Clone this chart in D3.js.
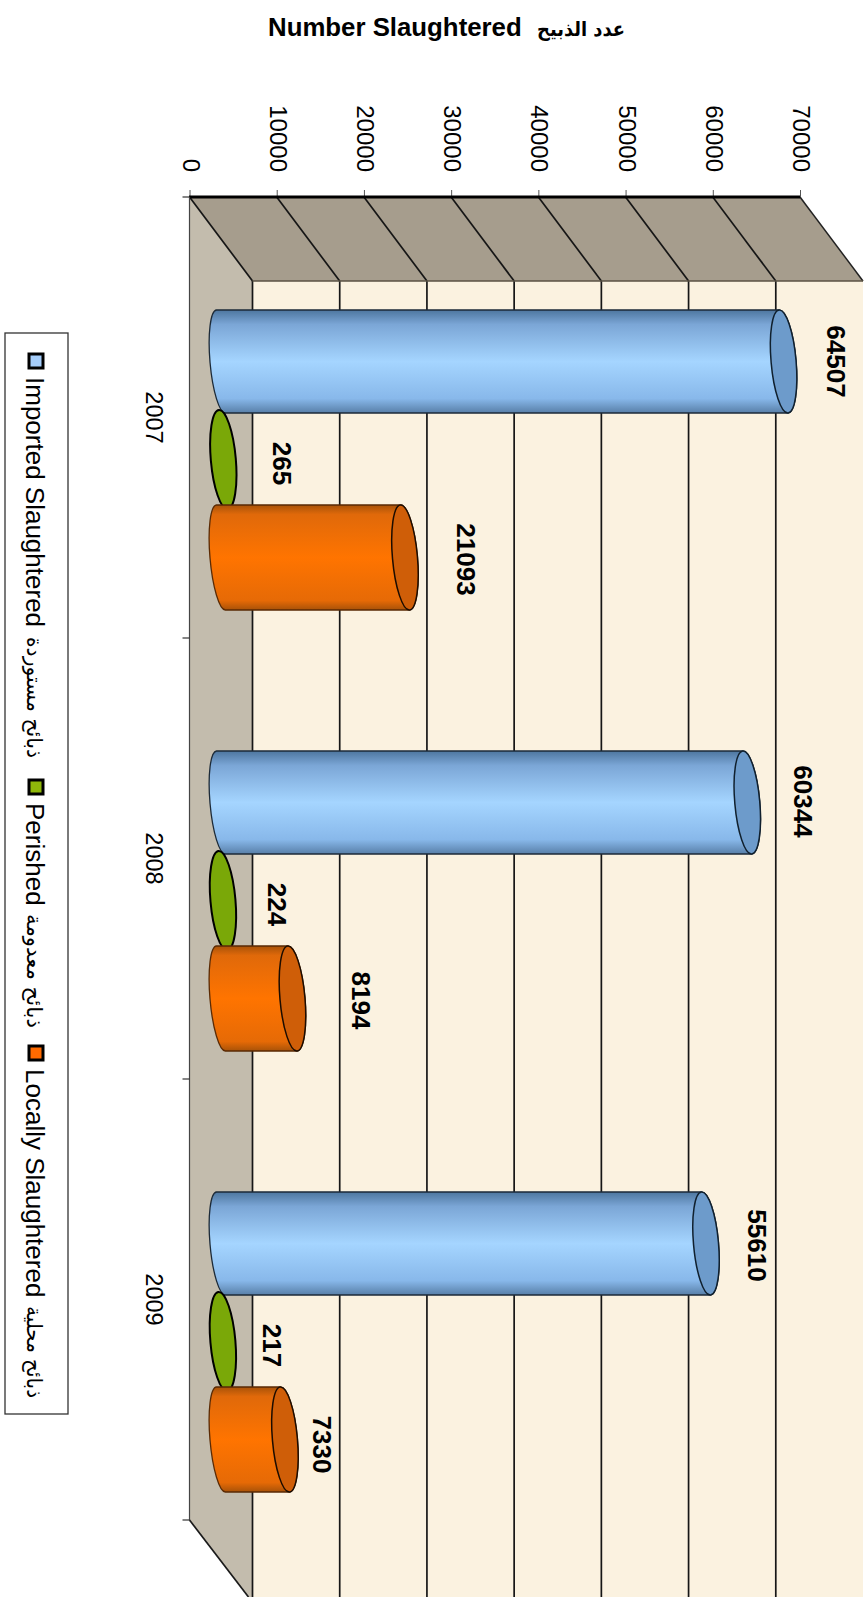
<!DOCTYPE html>
<html><head><meta charset="utf-8">
<script src="https://cdn.jsdelivr.net/npm/d3@7"></script>
<style>html,body{margin:0;background:#fff}svg{display:block}text{font-family:"Liberation Sans",Arial,sans-serif;fill:#000}</style>
</head><body><div id="c"></div>
<script>
const categories = ["2007","2008","2009"];
const seriesNames = ["Imported Slaughtered","Perished","Locally Slaughtered"];
const seriesArabic = ["ذبائح مستوردة","ذبائح معدومة","ذبائح محلية"];
const imported = [64507,60344,55610];
const perished = [265,224,217];
const locallySlaughtered = [21093,8194,7330];
const valueTicks = [0,10000,20000,30000,40000,50000,60000,70000];
const titleLatin = "Number Slaughtered";
const titleArabic = "عدد الذبيح";

const W=866,H=1597;
const x0=189.5,x70=800,top0=197,depthX=63,depthY=84;
const wallRight=x70+depthX;
const x=d3.scaleLinear().domain([0,70000]).range([x0,x70]);
const cat=d3.scaleBand().domain(categories).range([top0,top0+441*3]);
const ser=d3.scaleBand().domain(seriesNames).range([115.5,409.5]);
const baseShift=31.5, rx=12.5, baseRx=11, tilt=4.5;
const halfLen=[51.5,49.5,52.5];
const looks=[
 {id:"gBlue",stops:["#4d769f","#7ba6d6","#a5d5ff","#88b8ea","#587fa8"],offs:[0,.14,.5,.86,1],cap:"#6d9bcb",edge:"#1c2a38",capEdge:"#10202e"},
 {id:"gGreen",stops:["#6a9408","#7aa808","#82b00c","#7aa808","#6a9408"],offs:[0,.14,.5,.86,1],cap:"#7aa808",edge:"#111",capEdge:"#000"},
 {id:"gOrange",stops:["#a85208","#e0690a","#ff7400","#e66a06","#a85208"],offs:[0,.09,.5,.91,1],cap:"#cf5e08",edge:"#5a2a04",capEdge:"#1c0c00"}
];
const values=[imported,perished,locallySlaughtered];
// fine placement of the value labels, relative to the bar end
const labelDx=[[52,56,51],[59,54,49],[61,69,37]];
const labelDy=[[0,-1,2],[4,4,4],[2,2,5]];

const svg=d3.select("#c").append("svg").attr("width",W).attr("height",H);
const defs=svg.append("defs");
looks.forEach(l=>{
  const g=defs.append("linearGradient").attr("id",l.id).attr("x1",0).attr("y1",0).attr("x2",0).attr("y2",1);
  l.offs.forEach((o,i)=>g.append("stop").attr("offset",o).attr("stop-color",l.stops[i]));
});

const bottom=top0+441*3;
// walls
svg.append("rect").attr("x",x0+depthX).attr("y",top0+depthY).attr("width",wallRight-x0-depthX).attr("height",H-top0-depthY).attr("fill","#fbf2e0");
svg.append("path").attr("d",`M${x0},${top0}L${x70},${top0}L${wallRight},${top0+depthY}L${x0+depthX},${top0+depthY}Z`).attr("fill","#a69d8d");
svg.append("path").attr("d",`M${x0},${top0}L${x0+depthX},${top0+depthY}L${x0+depthX},${H}L${x0+59},${H}L${x0},${bottom}Z`).attr("fill","#c3bcad");

// gridlines
const grid=svg.append("g").attr("stroke","#161616").attr("stroke-width",1.7).attr("fill","none");
valueTicks.filter(v=>v<70000).forEach(v=>{
  grid.append("line").attr("x1",x(v)).attr("y1",top0).attr("x2",x(v)+depthX).attr("y2",top0+depthY);
  grid.append("line").attr("x1",x(v)+depthX).attr("y1",top0+depthY).attr("x2",x(v)+depthX).attr("y2",H);
});
svg.append("line").attr("x1",x70).attr("y1",top0).attr("x2",wallRight).attr("y2",top0+depthY).attr("stroke","#222").attr("stroke-width",1.5);
svg.append("line").attr("x1",x0+depthX).attr("y1",top0+depthY).attr("x2",wallRight).attr("y2",top0+depthY).attr("stroke","#5a5245").attr("stroke-width",1.5);
svg.append("line").attr("x1",x0).attr("y1",bottom).attr("x2",x0+59).attr("y2",H).attr("stroke","#1a1a1a").attr("stroke-width",1.7);

// value axis
const axis=d3.axisTop(x).tickValues(valueTicks).tickSize(7).tickPadding(18).tickFormat(d3.format("d"));
const ag=svg.append("g").attr("transform",`translate(0,${top0})`).call(axis);
ag.select(".domain").remove();
ag.selectAll(".tick line").attr("stroke","#555").attr("stroke-width",1);
ag.selectAll(".tick text").attr("font-size",24).attr("text-anchor","end").attr("dominant-baseline","central")
  .attr("dy",0).attr("transform","translate(1,-25) rotate(90)").attr("x",0).attr("y",0);
svg.append("line").attr("x1",x0-.5).attr("y1",top0).attr("x2",x70).attr("y2",top0).attr("stroke","#000").attr("stroke-width",3);

// category axis
svg.append("line").attr("x1",x0).attr("y1",top0).attr("x2",x0).attr("y2",bottom).attr("stroke","#444").attr("stroke-width",1.2);
const edges=[top0].concat(categories.map(c=>cat(c)+cat.bandwidth()));
svg.selectAll(".ct").data(edges).enter().append("line").attr("x1",x0-7).attr("x2",x0).attr("y1",d=>d).attr("y2",d=>d).attr("stroke","#333").attr("stroke-width",1.2);
svg.selectAll(".cl").data(categories).enter().append("text").attr("font-size",23.5).attr("text-anchor","middle").attr("dominant-baseline","central")
  .attr("transform",d=>`translate(154,${cat(d)+cat.bandwidth()/2}) rotate(90)`).text(d=>d);

// cylinders
categories.forEach((c,ci)=>{
  seriesNames.forEach((s,si)=>{
    const v=values[si][ci], l=looks[si];
    const cy=cat(c)+ser(s)+ser.bandwidth()/2, R=halfLen[si];
    const bx=x(0)+baseShift, ex=x(v)+baseShift;
    const ry=Math.hypot(R,tilt);
    if(si!==1) svg.append("path").attr("d",`M${bx-tilt},${cy-R}L${ex-tilt},${cy-R}A${rx} ${ry} -5 0 1 ${ex+tilt},${cy+R}L${bx+tilt},${cy+R}A${baseRx} ${ry} -5 0 1 ${bx-tilt},${cy-R}Z`)
      .attr("fill",`url(#${l.id})`).attr("stroke",l.edge).attr("stroke-width",1.3);
    svg.append("ellipse").attr("rx",rx).attr("ry",ry).attr("transform",`translate(${ex},${cy}) rotate(-5)`)
      .attr("fill",l.cap).attr("stroke",l.capEdge).attr("stroke-width",si==1?2:1.5);
  });
});
// value labels
categories.forEach((c,ci)=>{
  seriesNames.forEach((s,si)=>{
    const v=values[si][ci];
    const cy=cat(c)+ser(s)+ser.bandwidth()/2;
    svg.append("text").attr("font-size",26).attr("font-weight","bold").attr("text-anchor","middle").attr("dominant-baseline","central")
      .attr("transform",`translate(${x(v)+baseShift+labelDx[si][ci]},${cy+labelDy[si][ci]}) rotate(90)`).text(v);
  });
});

// title
svg.append("text").attr("x",268).attr("y",36).attr("font-size",25.8).attr("font-weight","bold").text(titleLatin);
svg.append("text").attr("x",537).attr("y",36).attr("font-size",20).attr("font-weight","bold")
  .attr("textLength",88).attr("lengthAdjust","spacingAndGlyphs")
  .style("font-family",'"DejaVu Sans"').text(titleArabic);

// legend
svg.append("rect").attr("x",5).attr("y",333).attr("width",63).attr("height",1081).attr("fill","#fff").attr("stroke","#333").attr("stroke-width",1.3);
const legendStart=[353,779,1045], legendFill=["#a5cdfa","#8fb80a","#ff6a00"], arabicStart=[637,914,1306], arabicLen=[121,114,92];
seriesNames.forEach((s,i)=>{
  const y=legendStart[i];
  svg.append("rect").attr("x",29).attr("y",y+1).attr("width",14).attr("height",14).attr("fill",legendFill[i]).attr("stroke","#000").attr("stroke-width",3);
  svg.append("text").attr("font-size",26).attr("transform",`translate(26,${y+24}) rotate(90)`).text(s);
  svg.append("text").attr("font-size",21).style("font-family",'"DejaVu Sans"')
    .attr("textLength",arabicLen[i]).attr("lengthAdjust","spacingAndGlyphs")
    .attr("transform",`translate(27,${arabicStart[i]}) rotate(90)`).text(seriesArabic[i]);
});
</script></body></html>
